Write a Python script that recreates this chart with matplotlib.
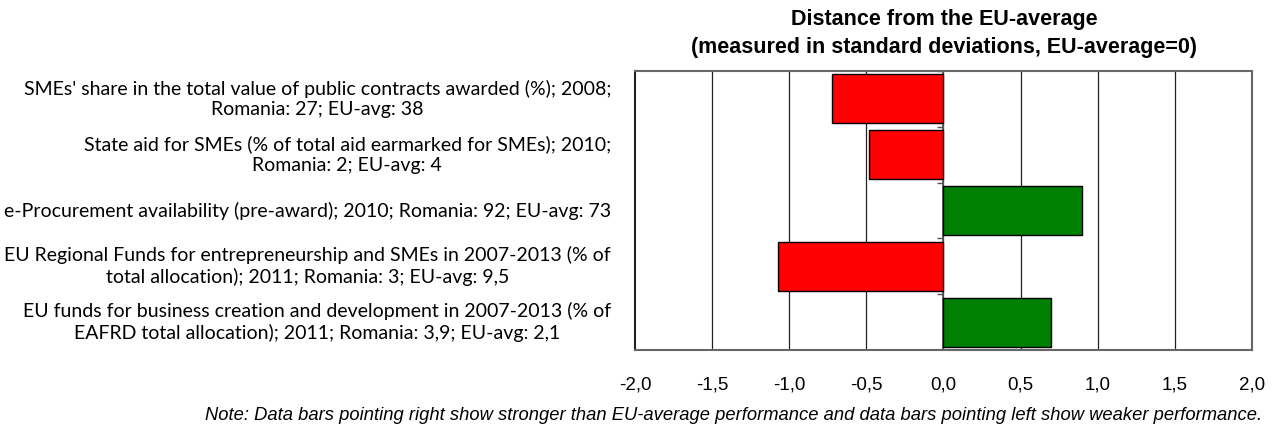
import numpy as np
import matplotlib
matplotlib.use("Agg")
import matplotlib.pyplot as plt

# Categories (top to bottom) and distance from EU-average in std deviations
labels = [
    "SMEs' share in the total value of public contracts awarded (%); 2008;\nRomania: 27; EU-avg: 38",
    "State aid for SMEs (% of total aid earmarked for SMEs); 2010;\nRomania: 2; EU-avg: 4",
    "e-Procurement availability (pre-award); 2010; Romania: 92; EU-avg: 73",
    "EU Regional Funds for entrepreneurship and SMEs in 2007-2013 (% of\ntotal allocation); 2011; Romania: 3; EU-avg: 9,5",
    "EU funds for business creation and development in 2007-2013 (% of\nEAFRD total allocation); 2011; Romania: 3,9; EU-avg: 2,1",
]
values = [-0.72, -0.48, 0.90, -1.07, 0.70]
xticks = [-2.0, -1.5, -1.0, -0.5, 0.0, 0.5, 1.0, 1.5, 2.0]

W, H = 1272, 426
fig = plt.figure(figsize=(W / 100, H / 100), dpi=100)
left, right, top, bottom = 635, 1252, 71, 350
ax = fig.add_axes([left / W, (H - bottom) / H, (right - left) / W, (bottom - top) / H])

y = np.arange(len(values))
colors = ["#FF0000" if v < 0 else "#008000" for v in values]
ax.barh(y, values, height=0.88, color=colors, edgecolor="black", linewidth=1, zorder=3)

ax.set_xlim(-2, 2)
ax.set_ylim(len(values) - 0.5, -0.5)

# vertical gridlines
for xv in xticks[1:-1]:
    ax.axvline(xv, color="#222222", lw=0.9, zorder=1)
# axis line at zero with small ticks between categories
ax.axvline(0, color="#555555", lw=1.2, zorder=2)
ax.hlines(np.arange(len(values) + 1) - 0.5, -0.04, 0, color="#555555", lw=1, zorder=2)

ax.set_xticks(xticks)
ax.set_xticklabels([f"{v:.1f}".replace(".", ",") for v in xticks],
                   fontsize=13.5, family="Liberation Sans")
ax.tick_params(axis="x", length=0, pad=19)
ax.set_yticks(y)
ax.set_yticklabels([])
ax.tick_params(axis="y", length=0)

for sp in ax.spines.values():
    sp.set_color("#666666")
    sp.set_linewidth(1.5)
ax.spines["left"].set_color("#222222")

# category labels, right edge 24 px left of the plot
label_x = -2.0 - 24 / ((right - left) / 4)
for yi, lab in zip(y, labels):
    ax.text(label_x, yi, lab, ha="right", va="center",
            multialignment="center", fontsize=14, family="Lato",
            linespacing=1.25)

fig.text(944 / W, 1 - 20 / H, "Distance from the EU-average", ha="center", va="center",
         fontsize=15.5, fontweight="bold", family="Liberation Sans")
fig.text(944 / W, 1 - 48 / H, "(measured in standard deviations, EU-average=0)", ha="center",
         va="center", fontsize=15.5, fontweight="bold", family="Liberation Sans")

fig.text(1262 / W, 1 - 415 / H,
         "Note: Data bars pointing right show stronger than EU-average performance and data bars pointing left show weaker performance.",
         ha="right", va="center", fontsize=13.2, style="italic", family="Liberation Sans")

fig.savefig("out.png", dpi=100)
